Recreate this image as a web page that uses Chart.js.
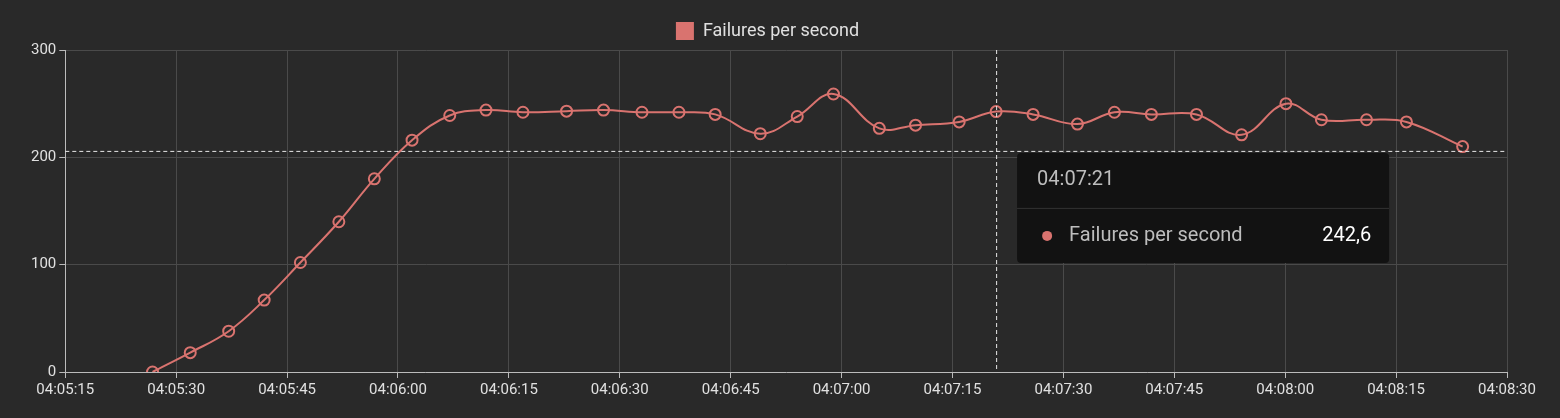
<!DOCTYPE html>
<html><head><meta charset="utf-8">
<script src="https://cdn.jsdelivr.net/npm/chart.js@4"></script>
<style>html,body{margin:0;background:#292929;}#w{width:1560px;height:418px;}</style>
</head><body><div id="w"><canvas id="c"></canvas></div>
<script>
// seconds after 04:05:00
const times=[26.8,31.9,37.1,41.9,46.8,52.0,56.8,61.9,67.0,71.9,76.9,82.8,87.8,93.0,98.0,102.9,109.0,114.0,118.9,125.1,130.0,135.9,140.9,145.9,151.9,156.9,161.9,168.0,174.1,180.1,184.9,191.0,196.4,204.0];
const failures=[0,18,38,67,102,140,180,216,239,244,242,243,244,242,242,240,222,238,259,227,230,233,242.6,240,231,242,240,240,221,250,235,235,233,210];
const seriesName='Failures per second';
const hoverIndex=22, hoverY=206, tooltipTitle='04:07:21', tooltipValue='242,6';
const col='#d9736f';
function fmt(s){const m=Math.floor(s/60),ss=Math.round(s%60);return '04:0'+(5+m)+':'+String(ss).padStart(2,'0');}
const overlay={id:'ov',afterDraw(ch){const c=ch.ctx,x=ch.scales.x,y=ch.scales.y,a=ch.chartArea;
 const px=x.getPixelForValue(times[hoverIndex]),py=y.getPixelForValue(hoverY);
 c.save();c.strokeStyle='#e8e8e8';c.lineWidth=1;c.setLineDash([4,3]);
 c.beginPath();c.moveTo(px+0.5,a.top);c.lineTo(px+0.5,a.bottom);c.moveTo(a.left,py+0.5);c.lineTo(a.right,py+0.5);c.stroke();
 c.setLineDash([]);
 const bx=px+21,by=py+2,bw=372,bh=110;
 c.fillStyle='#121212';c.beginPath();c.roundRect(bx,by,bw,bh,4);c.fill();
 c.strokeStyle='#333';c.beginPath();c.moveTo(bx,by+55.5);c.lineTo(bx+bw,by+55.5);c.stroke();
 c.font='20px Roboto';c.fillStyle='#bdbdbd';c.textBaseline='middle';c.textAlign='left';
 c.fillText(tooltipTitle,bx+20,by+27);
 c.fillStyle=col;c.beginPath();c.arc(bx+30,by+83,5,0,Math.PI*2);c.fill();
 c.fillStyle='#bdbdbd';c.fillText(seriesName,bx+52,by+83);
 c.fillStyle='#fff';c.textAlign='right';c.fillText(tooltipValue,bx+bw-18,by+83);
 c.restore();}};
new Chart(document.getElementById('c'),{type:'line',
data:{datasets:[{label:seriesName,data:times.map((t,i)=>({x:t,y:failures[i]})),borderColor:col,backgroundColor:col,
 borderWidth:2,tension:0.4,pointRadius:5.5,pointBorderWidth:2,pointBackgroundColor:'rgba(0,0,0,0)',pointBorderColor:col}]},
options:{responsive:true,maintainAspectRatio:false,animation:false,
 layout:{padding:{left:28,right:53,top:8,bottom:16}},
 plugins:{legend:{labels:{color:'#e0e0e0',font:{family:'Roboto',size:18},boxWidth:18,boxHeight:18,padding:14,
   generateLabels:ch=>[{text:seriesName,fillStyle:col,strokeStyle:col,lineWidth:0,fontColor:'#e0e0e0'}]}},tooltip:{enabled:false}},
 scales:{x:{type:'linear',min:15,max:210,ticks:{stepSize:15,color:'#e0e0e0',font:{family:'Roboto',size:15},callback:v=>fmt(v),maxRotation:0},
   grid:{color:'#4a4a4a',tickColor:'#bbb',tickLength:6},border:{color:'#bbb'}},
  y:{min:0,max:300,ticks:{stepSize:100,color:'#e0e0e0',font:{family:'Roboto',size:15}},grid:{color:'#4a4a4a',tickColor:'#bbb',tickLength:6},border:{color:'#bbb'}}}},
plugins:[overlay]});
</script></body></html>
